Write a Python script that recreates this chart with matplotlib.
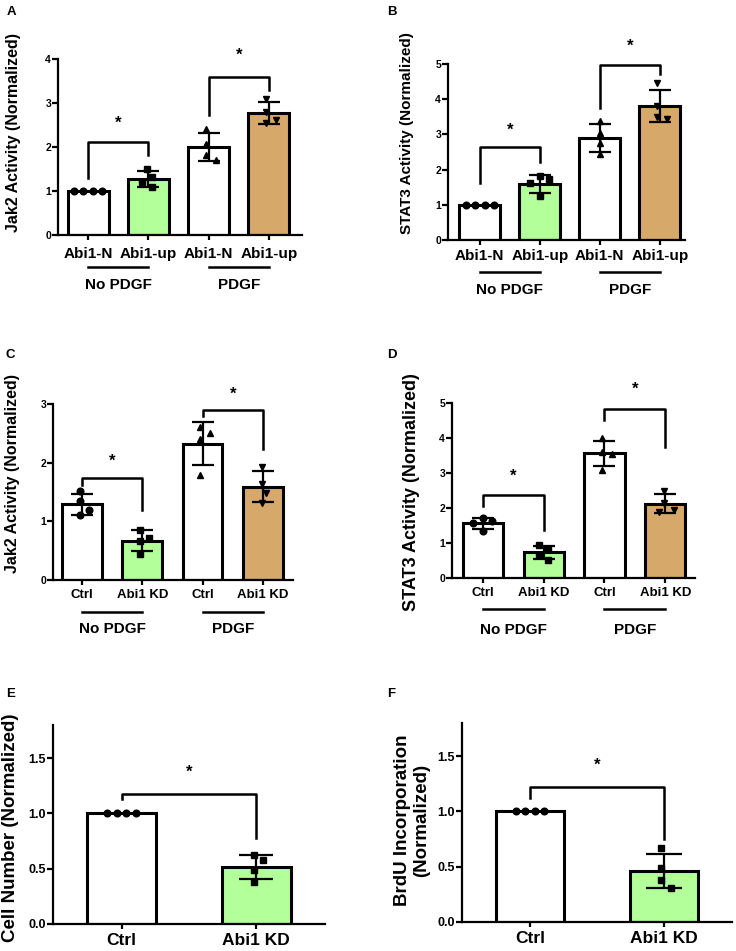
import numpy as np
import matplotlib.pyplot as plt

plt.rcParams['font.family'] = ['Liberation Sans', 'DejaVu Sans']
plt.rcParams['font.weight'] = 'bold'
plt.rcParams['axes.labelweight'] = 'bold'

GREEN = '#b3ff99'
TAN = '#d6a96b'

# ---- data ----
groups = ['No PDGF', 'PDGF']

# A: Jak2, overexpression
a_labels = ['Abi1-N', 'Abi1-up', 'Abi1-N', 'Abi1-up']
a_points = [[1.0, 1.0, 1.0, 1.0], [1.5, 1.31, 1.2, 1.09],
            [2.42, 2.07, 1.82, 1.7], [3.1, 2.8, 2.62, 2.55]]
# bracket: (top, left leg end, right leg end, star height)
a_brackets = [(2.11, 1.3, 1.82, 2.55), (3.6, 2.73, 3.3, 4.09)]

# B: STAT3, overexpression
b_labels = ['Abi1-N', 'Abi1-up', 'Abi1-N', 'Abi1-up']
b_points = [[1.0, 1.0, 1.0, 1.0], [1.83, 1.72, 1.62, 1.24],
            [3.37, 3.05, 2.75, 2.45], [4.45, 3.8, 3.5, 3.45]]
b_brackets = [(2.63, 1.61, 2.23, 3.13), (4.96, 3.75, 4.72, 5.5)]

# C: Jak2, knockdown
c_labels = ['Ctrl', 'Abi1 KD', 'Ctrl', 'Abi1 KD']
c_points = [[1.51, 1.34, 1.2, 1.11], [0.86, 0.72, 0.66, 0.44],
            [2.6, 2.5, 2.4, 1.79], [1.93, 1.63, 1.48, 1.32]]
c_brackets = [(1.74, 1.62, 1.2, 2.02), (2.89, 2.8, 2.24, 3.16)]

# D: STAT3, knockdown
d_labels = ['Ctrl', 'Abi1 KD', 'Ctrl', 'Abi1 KD']
d_points = [[1.71, 1.62, 1.57, 1.33], [0.95, 0.82, 0.66, 0.52],
            [4.0, 3.59, 3.55, 3.1], [2.5, 2.14, 1.95, 1.9]]
d_brackets = [(2.38, 2.05, 1.38, 2.9), (4.83, 4.52, 3.74, 5.38)]

# E: cell number
e_labels = ['Ctrl', 'Abi1 KD']
e_points = [[1.0, 1.0, 1.0, 1.0], [0.627, 0.58, 0.485, 0.376]]
e_brackets = [(1.18, 1.13, 0.78, 1.37)]

# F: BrdU
f_labels = ['Ctrl', 'Abi1 KD']
f_points = [[1.0, 1.0, 1.0, 1.0], [0.67, 0.49, 0.38, 0.31]]
f_brackets = [(1.22, 1.12, 0.75, 1.42)]

fig = plt.figure(figsize=(7.36, 9.51), dpi=100)


def swarm_x(ax, xc, vals, d=9.5):
    # simple beeswarm in pixel space so markers don't overlap
    placed = []
    res = {}
    step = d / 2
    cands = [0.0]
    for j in range(1, 20):
        cands += [j * step, -j * step]
    for i in np.argsort(-np.array(vals)):
        px, py = ax.transData.transform((xc, vals[i]))
        for c in cands:
            if all(np.hypot(px + c - qx, py - qy) >= d for qx, qy in placed):
                break
        placed.append((px + c, py))
        res[i] = (px + c, py)
    shift = np.mean([p[0] for p in placed]) - ax.transData.transform((xc, 0))[0]
    inv = ax.transData.inverted()
    return [inv.transform((res[i][0] - shift, res[i][1]))[0] for i in range(len(vals))]


def panel(rect, labels, points, colors, markers, ylim, yticks, xlim, brackets,
          ylabel, ylab_xy, ylab_fs, tick_fs, xlab_fs, xpad, width, capsize,
          grp=None, yfmt='{:g}'):
    ax = fig.add_axes(rect)
    x = np.arange(len(labels))
    means = [np.mean(p) for p in points]
    sds = [np.std(p, ddof=1) for p in points]
    ax.bar(x, means, width=width, color=colors, edgecolor='black', linewidth=2.2, zorder=2)
    ax.set_xlim(*xlim)
    ax.set_ylim(*ylim)
    for xi, m, s in zip(x, means, sds):
        if s > 0:
            ax.errorbar(xi, m, yerr=s, color='black', lw=1.6, capsize=capsize,
                        capthick=1.6, zorder=3)
    msz = {'o': 4.8, 's': 4.5, '^': 5.0, 'v': 5.0}
    for xi, p, mk in zip(x, points, markers):
        xs = swarm_x(ax, xi, p)
        ax.plot(xs, p, linestyle='none', marker=mk, color='black', markersize=msz[mk],
                zorder=4, clip_on=False)
    # significance brackets
    for k, (top, l, r, st) in enumerate(brackets):
        x0, x1 = 2 * k, 2 * k + 1
        ax.plot([x0, x0, x1, x1], [l, top, top, r], color='black', lw=1.8,
                clip_on=False, zorder=5)
        ax.text((x0 + x1) / 2, st, '*', ha='center', va='center', fontsize=12,
                clip_on=False)
    ax.spines[['top', 'right']].set_visible(False)
    ax.spines[['left', 'bottom']].set_linewidth(1.6)
    ax.set_yticks(yticks)
    ax.set_yticklabels([yfmt.format(v) for v in yticks], fontsize=tick_fs, fontweight='bold')
    ax.set_xticks(x)
    ax.set_xticklabels(labels, fontsize=xlab_fs, fontweight='bold')
    ax.tick_params(axis='y', length=4, width=1.6, pad=1)
    ax.tick_params(axis='x', length=3.5, width=1.6, pad=xpad)
    ax.set_ylabel(ylabel, fontsize=ylab_fs, fontweight='bold', va='center')
    ax.yaxis.set_label_coords(*ylab_xy)
    if grp is not None:
        uy, gy, gfs = grp
        tr = ax.get_xaxis_transform()
        for k, g in enumerate(groups):
            ax.plot([2 * k, 2 * k + 1], [uy, uy], color='black', lw=1.8,
                    transform=tr, clip_on=False)
            ax.text(2 * k + 0.5, gy, g, ha='center', va='center', fontsize=gfs,
                    fontweight='bold', transform=tr)
    return ax


four_cols = ['white', GREEN, 'white', TAN]
four_mk = ['o', 's', '^', 'v']

panel([58 / 736, 1 - 235 / 951, 244 / 736, 176 / 951], a_labels, a_points, four_cols, four_mk,
      (0, 4), [0, 1, 2, 3, 4], (-0.5, 3.55), a_brackets,
      'Jak2 Activity (Normalized)', (-0.184, 0.58), 11.5, 7.5, 11, 5, 0.68, 8,
      grp=(-0.182, -0.284, 11))

panel([448 / 736, 1 - 240 / 951, 237 / 736, 176 / 951], b_labels, b_points, four_cols, four_mk,
      (0, 5), [0, 1, 2, 3, 4, 5], (-0.53, 3.42), b_brackets,
      'STAT3 Activity (Normalized)', (-0.173, 0.605), 11, 7.5, 11, 3, 0.68, 8,
      grp=(-0.182, -0.284, 11))

panel([53 / 736, 1 - 580 / 951, 240 / 736, 176 / 951], c_labels, c_points, four_cols, four_mk,
      (0, 3), [0, 1, 2, 3], (-0.48, 3.5), c_brackets,
      'Jak2 Activity (Normalized)', (-0.167, 0.605), 11.5, 7.5, 9.5, 3, 0.66, 8,
      grp=(-0.182, -0.28, 11))

panel([452 / 736, 1 - 578 / 951, 243 / 736, 175 / 951], d_labels, d_points, four_cols, four_mk,
      (0, 5), [0, 1, 2, 3, 4, 5], (-0.51, 3.49), d_brackets,
      'STAT3 Activity (Normalized)', (-0.165, 0.489), 13, 7.5, 9.5, 3, 0.66, 8,
      grp=(-0.177, -0.297, 11))

panel([53 / 736, 1 - 924 / 951, 272 / 736, 199 / 951], e_labels, e_points, ['white', GREEN], ['o', 's'],
      (0, 1.8), [0, 0.5, 1.0, 1.5], (-0.51, 1.51), e_brackets,
      'Cell Number (Normalized)', (-0.158, 0.482), 13.5, 9, 12.5, 3, 0.51, 12,
      yfmt='{:.1f}')

panel([462 / 736, 1 - 922 / 951, 270 / 736, 199 / 951], f_labels, f_points, ['white', GREEN], ['o', 's'],
      (0, 1.8), [0, 0.5, 1.0, 1.5], (-0.51, 1.51), f_brackets,
      'BrdU Incorporation\n(Normalized)', (-0.185, 0.51), 13.5, 9, 12.5, 3, 0.51, 13,
      yfmt='{:.1f}')

# panel letters
for lbl, px, py in [('A', 7, 6), ('B', 387, 6), ('C', 6, 349), ('D', 387, 349),
                    ('E', 6, 688), ('F', 387, 688)]:
    fig.text(px / 736, 1 - py / 951, lbl, fontsize=9.5, fontweight='bold', va='top', ha='left')

fig.savefig('out.png', dpi=100)
